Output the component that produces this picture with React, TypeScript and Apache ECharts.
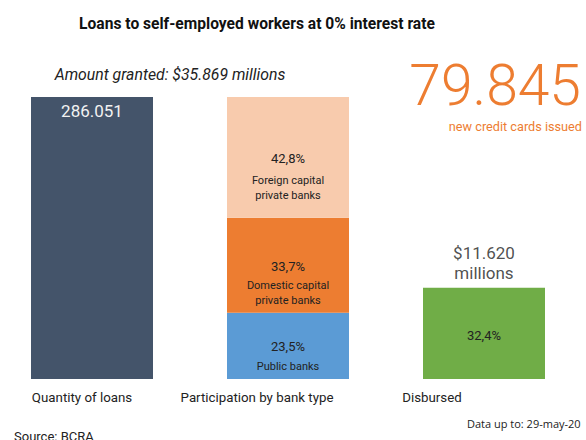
import React, { useEffect, useRef } from "react";
import * as echarts from "echarts";

const categories = ["Quantity of loans", "Participation by bank type", "Disbursed"];
const loansCount = 286051;
const bankTypes = ["Public banks", "Domestic capital\nprivate banks", "Foreign capital\nprivate banks"];
const bankShares = [23.5, 33.7, 42.8];
const disbursedShare = 32.4;
const disbursedAmount = 11620;
const amountGranted = 35869;
const creditCards = 79845;
const dataDate = "29-may-20";

const FONT = "Roboto, 'Noto Sans', sans-serif";

const fmtThousands = (n: number) => n.toString().replace(/\B(?=(\d{3})+(?!\d))/g, ".");
const fmtPct = (v: number) => v.toFixed(1).replace(".", ",") + "%";

export default function App() {
  const ref = useRef<HTMLDivElement>(null);
  useEffect(() => {
    if (!ref.current) return;
    const chart = echarts.init(ref.current, null, { renderer: "svg" });
    const bankColors = ["#5B9BD5", "#ED7D31", "#F8CBAD"];
    const bankOffsets = [8.5, 16.5, 16.5];
    const pctLineHeights = [24, 22, 28];
    const bankSeries = bankShares.map((v, i) => ({
      type: "bar",
      name: bankTypes[i],
      stack: "total",
      barWidth: 122,
      data: categories.map((_, ci) => (ci === 1 ? v : "-")),
      itemStyle: { color: bankColors[i] },
      label: {
        show: true,
        position: "inside",
        offset: [0, bankOffsets[i]],
        formatter: () =>
          `{p|${fmtPct(v)}}\n` + bankTypes[i].split("\n").map((l) => `{n|${l}}`).join("\n"),
        rich: {
          p: { fontSize: 13, lineHeight: pctLineHeights[i], color: "#222", fontFamily: FONT },
          n: { fontSize: 11, lineHeight: 15, color: "#222", fontFamily: FONT },
        },
      },
    }));
    const option = {
      animation: false,
      grid: [
        { left: -6, width: 588, top: 97, height: 282, outerBoundsMode: "none", containLabel: false },
        { left: -5.5, width: 525, top: 378, height: 1, outerBoundsMode: "none", containLabel: false },
      ],
      xAxis: [
        { type: "category", data: categories, gridIndex: 0, show: false },
        {
          type: "category",
          data: categories,
          gridIndex: 1,
          axisLine: { show: false },
          axisTick: { show: false },
          axisLabel: { interval: 0, margin: 12, fontSize: 13.3, color: "#222", fontFamily: FONT },
        },
      ],
      yAxis: [
        { type: "value", min: 0, max: 100, show: false, gridIndex: 0 },
        { type: "value", min: 0, max: 1, show: false, gridIndex: 1 },
      ],
      series: [
        {
          type: "bar",
          name: "Quantity of loans",
          stack: "total",
          barWidth: 122,
          data: categories.map((_, ci) => (ci === 0 ? 100 : "-")),
          itemStyle: { color: "#44546A" },
          label: {
            show: true,
            position: "insideTop",
            distance: 5,
            formatter: () => fmtThousands(loansCount),
            fontSize: 17,
            color: "#F2F2F2",
            fontFamily: FONT,
          },
        },
        ...bankSeries,
        {
          type: "bar",
          name: "Disbursed",
          stack: "total",
          barWidth: 122,
          data: categories.map((_, ci) => (ci === 2 ? disbursedShare : "-")),
          itemStyle: { color: "#70AD47" },
          label: {
            show: true,
            position: "inside",
            offset: [0, 2],
            formatter: () => fmtPct(disbursedShare),
            fontSize: 13,
            color: "#222",
            fontFamily: FONT,
          },
        },
        {
          type: "scatter",
          name: "Disbursed amount",
          symbolSize: 0,
          data: categories.map((_, ci) => (ci === 2 ? disbursedShare : "-")),
          label: {
            show: true,
            position: "top",
            distance: 5,
            formatter: () => `$${fmtThousands(disbursedAmount)}\nmillions`,
            fontSize: 17,
            lineHeight: 20,
            color: "#222",
            fontFamily: FONT,
          },
        },
      ],
      graphic: [
        {
          type: "text",
          x: 257,
          y: 24,
          style: {
            text: "Loans to self-employed workers at 0% interest rate",
            fontSize: 15.6,
            fontWeight: "bold",
            fontFamily: FONT,
            fill: "#111",
            textAlign: "center",
            textVerticalAlign: "middle",
          },
        },
        {
          type: "text",
          x: 170,
          y: 74,
          style: {
            text: `Amount granted: $${fmtThousands(amountGranted)} millions`,
            fontSize: 15.8,
            fontStyle: "italic",
            fontFamily: FONT,
            fill: "#222",
            textAlign: "center",
            textVerticalAlign: "middle",
          },
        },
        {
          type: "text",
          x: 581,
          y: 85,
          style: {
            text: fmtThousands(creditCards),
            fontSize: 57,
            fontWeight: 300,
            fontFamily: FONT,
            fill: "#ED7D31",
            textAlign: "right",
            textVerticalAlign: "middle",
          },
        },
        {
          type: "text",
          x: 582,
          y: 126,
          style: {
            text: "new credit cards issued",
            fontSize: 12.7,
            fontFamily: FONT,
            fill: "#ED7D31",
            textAlign: "right",
            textVerticalAlign: "middle",
          },
        },
        {
          type: "text",
          x: 467,
          y: 423,
          style: {
            text: `Data up to: ${dataDate}`,
            fontSize: 11,
            fontFamily: "'Open Sans', sans-serif",
            fill: "#222",
            textAlign: "left",
            textVerticalAlign: "middle",
          },
        },
        {
          type: "text",
          x: 14,
          y: 430,
          style: {
            text: "Source: BCRA",
            fontSize: 13,
            fontFamily: FONT,
            fill: "#222",
            textAlign: "left",
            textVerticalAlign: "top",
          },
        },
      ],
    };
    chart.setOption(option as any);
    return () => chart.dispose();
  }, []);
  return (
    <div
      ref={ref}
      style={{ position: "fixed", left: 0, top: 0, width: 586, height: 440, background: "#fff" }}
    />
  );
}
